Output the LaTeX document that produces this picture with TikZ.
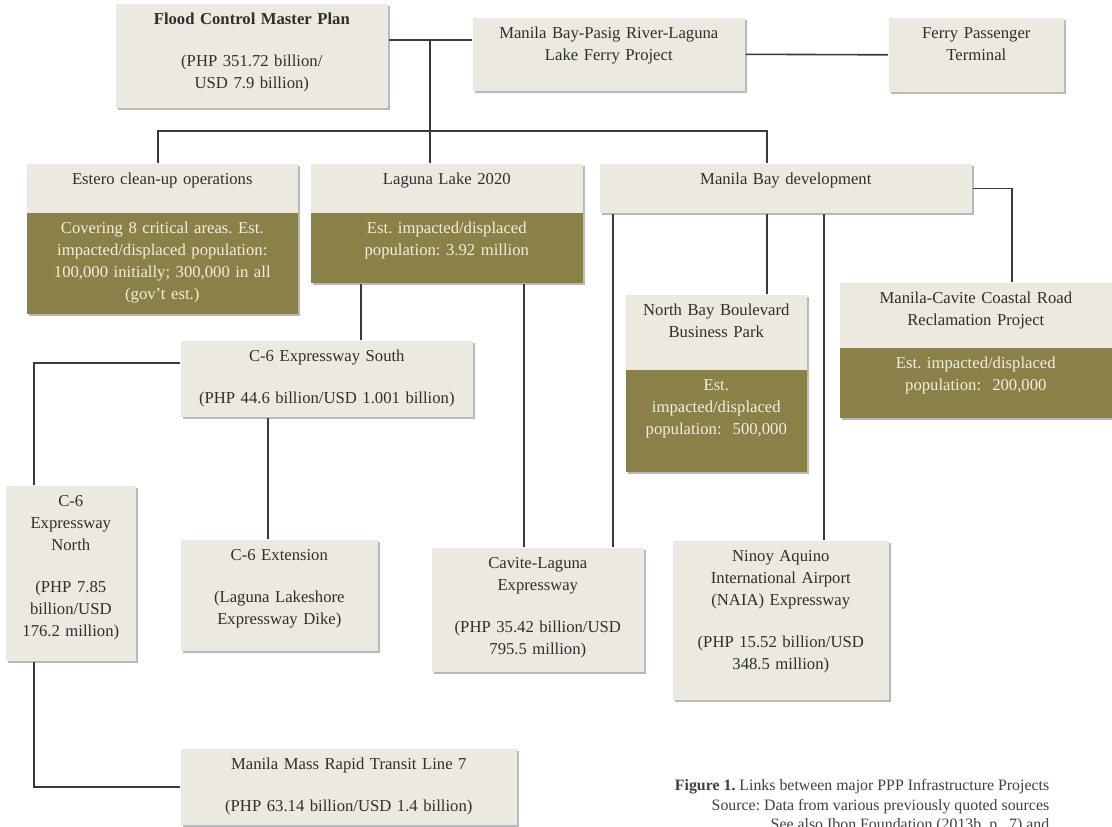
\documentclass[tikz,border=0pt]{standalone}
\usepackage{fontspec}
\setmainfont{Liberation Serif}
\frenchspacing
\usetikzlibrary{shadows}
\definecolor{cpanel}{HTML}{ECE9E1}
\definecolor{colive}{HTML}{8A8149}
\definecolor{ccream}{HTML}{F3EEDC}
\definecolor{cink}{HTML}{2E2E2E}
\definecolor{cline}{HTML}{3A3A3A}
\tikzset{
  every picture/.style={line width=1.2pt},
  panel/.style={fill=#1, anchor=north west, inner sep=0pt, align=center,
    text height=15.75pt, font=\fontsize{12.5pt}{16.5pt}\selectfont,
    drop shadow={shadow xshift=1.6pt, shadow yshift=-2pt, fill=black!50, opacity=.55}},
  panel/.default=cpanel,
  title/.style={panel=cpanel, text=cink},
  info/.style={panel=colive, text=ccream},
  link/.style={draw=cline, line width=1.2pt},
  caption/.style={anchor=north east, align=right, text=black!75, inner sep=0pt,
    font=\fontsize{11.9pt}{14.3pt}\selectfont},
}

\begin{document}
\begin{tikzpicture}[x=0.75pt, y=-0.75pt]
  \fill[white] (0,0) rectangle (1112,826);
  \useasboundingbox (0,0) rectangle (1112,826);
  % top row
  \node[title, text width=204pt, text depth=62.25pt] (flood) at (115,3) {\textbf{Flood Control Master Plan}\\[15pt](PHP 351.72 billion/\\USD 7.9 billion)};
  \node[title, text width=204pt, text depth=39pt] (ferry) at (472,17) {Manila Bay-Pasig River-Laguna\\Lake Ferry Project};
  \node[title, text width=131.25pt, text depth=39.75pt] (terminal) at (888,17) {Ferry Passenger\\Terminal};
  % first tier
  \node[title, text width=203.25pt, text depth=21pt] (estero) at (26,163) {Estero clean-up operations};
  \node[info, text width=203.25pt, text depth=60pt] (esteroinfo) at (26,212) {Covering 8 critical areas. Est.\\impacted/displaced population:\\100,000 initially; 300,000 in all\\(gov't est.)};
  \node[title, text width=204pt, text depth=21pt] (laguna) at (310,163) {Laguna Lake 2020};
  \node[info, text width=204pt, text depth=36.75pt] (lagunainfo) at (310,212) {Est. impacted/displaced\\population: 3.92 million};
  \node[title, text width=279pt, text depth=21pt] (mbd) at (599,163) {Manila Bay development};
  \node[title, text width=135.75pt, text depth=40.5pt] (northbay) at (625,294) {North Bay Boulevard\\Business Park};
  \node[info, text width=135.75pt, text depth=60.75pt] (northbayinfo) at (625,369) {Est.\\impacted/displaced\\population:\ \ 500,000};
  \node[title, text width=204pt, text depth=33pt] (coastal) at (839,282) {Manila-Cavite Coastal Road\\Reclamation Project};
  \node[info, text width=204pt, text depth=36.75pt] (coastalinfo) at (839,347) {Est. impacted/displaced\\population:\ \ 200,000};
  % roads
  \node[title, text width=219pt, text depth=41.25pt] (c6s) at (180,340) {C-6 Expressway South\\[15pt](PHP 44.6 billion/USD 1.001 billion)};
  \node[title, text width=97.5pt, text depth=115.5pt] (c6n) at (5,485) {C-6\\Expressway\\North\\[15pt](PHP 7.85\\billion/USD\\176.2 million)};
  \node[title, text width=147.75pt, text depth=67.5pt] (c6ext) at (180,539) {C-6 Extension\\[15pt](Laguna Lakeshore\\Expressway Dike)};
  \node[title, text width=159pt, text depth=77.25pt] (cavite) at (431,547) {Cavite-Laguna\\Expressway\\[15pt](PHP 35.42 billion/USD\\795.5 million)};
  \node[title, text width=162pt, text depth=103.5pt] (naia) at (672,540) {Ninoy Aquino\\International Airport\\(NAIA) Expressway\\[15pt](PHP 15.52 billion/USD\\348.5 million)};
  \node[title, text width=252pt, text depth=41.25pt] (mrt) at (180,748) {Manila Mass Rapid Transit Line 7\\[15pt](PHP 63.14 billion/USD 1.4 billion)};
  \node[caption] (fig) at (1050,779) {\textbf{Figure 1.} Links between major PPP Infrastructure Projects\\Source: Data from various previously quoted sources\\See also Ibon Foundation (2013b, p.\ \ 7) and};
  % links
  \coordinate (hub) at (430,40);
  \coordinate (busL) at (158,131);
  \coordinate (busR) at (767,131);
  \draw[link] (flood.east |- hub) -- (ferry.west |- hub);
  \draw[link] (ferry.east) -- (terminal.west);
  \draw[link] (hub) -- (hub |- laguna.north);
  \draw[link] (estero.north -| busL) -- (busL) -- (busR) -- (busR |- mbd.north);
  \draw[link] (lagunainfo.south -| 361,0) -- (c6s.north -| 361,0);
  \draw[link] (lagunainfo.south -| 524,0) -- (cavite.north -| 524,0);
  \draw[link] (mbd.south -| 613,0) -- (cavite.north -| 613,0);
  \draw[link] (mbd.south -| busR) -- (northbay.north -| busR);
  \draw[link] (mbd.south -| 824,0) -- (naia.north -| 824,0);
  \draw[link] (mbd.east) -| (coastal.north -| 1012,0);
  \draw[link] (c6s.west |- 0,363) -| (c6n.north -| 34,0);
  \draw[link] (c6s.south -| 268,0) -- (c6ext.north -| 268,0);
  \draw[link] (c6n.south -| 34,0) |- (mrt.west);
\end{tikzpicture}
\end{document}
